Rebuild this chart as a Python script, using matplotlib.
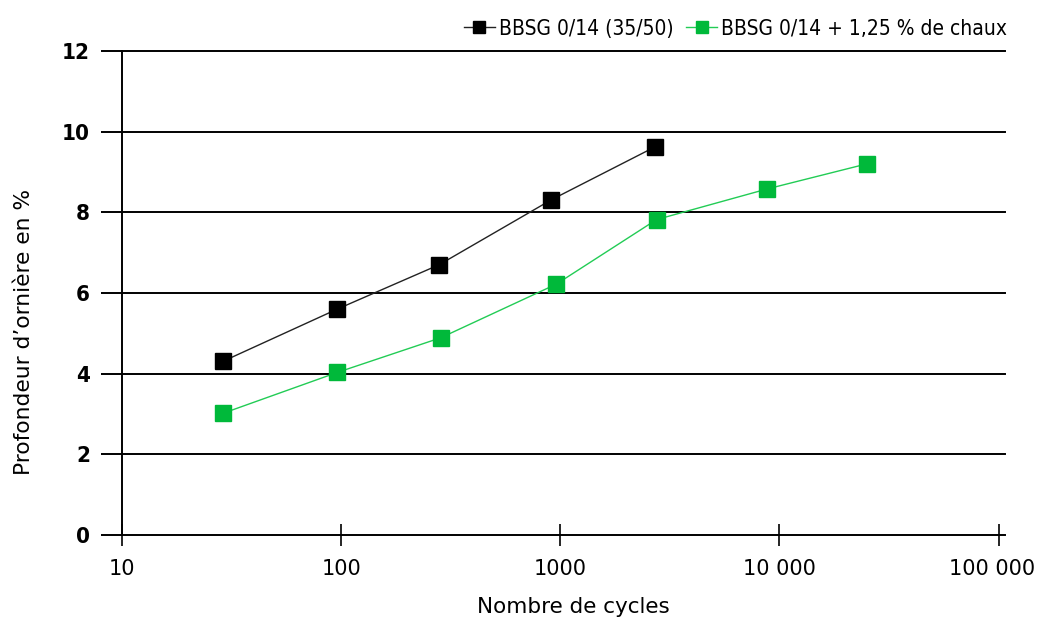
"""Rut depth versus number of cycles for two asphalt mixes (log x scale)."""

import matplotlib.pyplot as plt
from matplotlib.ticker import FixedLocator, NullLocator
from matplotlib.transforms import ScaledTranslation

plt.rcParams["font.family"] = ["DejaVu Sans"]
plt.rcParams["font.stretch"] = "condensed"

# Cycle counts and rut depth (%) for each mix
cycles_ref = [29, 96, 280, 910, 2700]
rut_ref = [4.31, 5.6, 6.7, 8.31, 9.62]

cycles_lime = [29, 96, 285, 960, 2750, 8800, 25000]
rut_lime = [3.02, 4.03, 4.89, 6.22, 7.82, 8.58, 9.2]

label_ref = "BBSG 0/14 (35/50)"
label_lime = "BBSG 0/14 + 1,25 % de chaux"

x_ticks = [10, 100, 1000, 10000, 100000]
x_tick_labels = ["10", "100", "1000", "10 000", "100 000"]
y_ticks = [0, 2, 4, 6, 8, 10, 12]

green = "#00b93a"

fig = plt.figure(figsize=(10.4, 6.22), dpi=100)
ax = fig.add_axes([0.1173, 0.1399, 0.8490, 0.7781])

ax.set_xscale("log")
ax.set_xlim(10, 107000)
ax.set_ylim(0, 12)

# horizontal reference lines at every y tick except zero
for y in y_ticks[1:]:
    ax.axhline(y, color="black", linewidth=1.4, zorder=1, clip_on=False)

ax.plot(cycles_ref, rut_ref, color="#222222", linewidth=1.0,
        marker="s", markersize=11, markerfacecolor="black",
        markeredgecolor="black", label=label_ref, zorder=3)
ax.plot(cycles_lime, rut_lime, color="#22cc55", linewidth=1.0,
        marker="s", markersize=11, markerfacecolor=green,
        markeredgecolor=green, label=label_lime, zorder=3)

for side in ("top", "right"):
    ax.spines[side].set_visible(False)
for side in ("left", "bottom"):
    ax.spines[side].set_linewidth(1.4)

ax.xaxis.set_major_locator(FixedLocator(x_ticks))
ax.xaxis.set_minor_locator(NullLocator())
ax.set_xticklabels(x_tick_labels)
ax.set_yticks(y_ticks)

ax.tick_params(axis="x", direction="inout", length=16, width=1.2,
               labelsize=15, pad=9)
ax.tick_params(axis="y", direction="out", length=15, width=1.4,
               labelsize=16, pad=8)
for lbl in ax.get_xticklabels():
    lbl.set_fontstretch("normal")
for lbl in ax.get_yticklabels():
    lbl.set_fontweight("bold")

# keep the last x label inside the figure
last = ax.get_xticklabels()[-1]
last.set_transform(last.get_transform()
                   + ScaledTranslation(-0.06, 0, fig.dpi_scale_trans))

ax.set_xlabel("Nombre de cycles", fontsize=15.5, fontstretch="normal")
ax.xaxis.set_label_coords(0.5114, -0.128)
ax.set_ylabel("Profondeur d\u2019orni\u00e8re en %", fontsize=15.7,
              fontstretch="normal")
ax.yaxis.set_label_coords(-0.100, 0.419)

ax.legend(loc="lower right", bbox_to_anchor=(1.017, 1.0), ncol=2,
          frameon=False, fontsize=15, handlelength=1.5, handletextpad=0.2,
          columnspacing=0.6, borderaxespad=0.2, markerscale=0.8)

fig.savefig("out.png", dpi=100)
